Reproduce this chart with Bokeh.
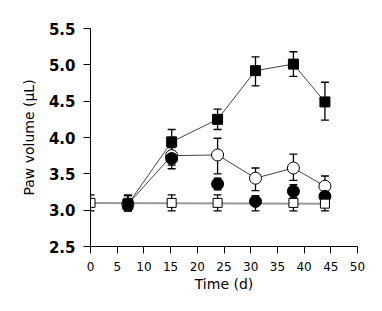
from bokeh.plotting import figure
from bokeh.models import Range1d, Whisker, ColumnDataSource, TeeHead, FixedTicker, PrintfTickFormatter
from bokeh.embed import file_html
from bokeh.resources import INLINE

# Data
x_ticks = [0, 5, 10, 15, 20, 25, 30, 35, 40, 45, 50]
y_ticks = [2.5, 3.0, 3.5, 4.0, 4.5, 5.0, 5.5]

fsq_days = [7, 15.2, 23.8, 30.9, 38, 43.9]
fsq_vals = [3.08, 3.94, 4.25, 4.92, 5.01, 4.49]
fsq_hi = [3.20, 4.11, 4.39, 5.11, 5.18, 4.76]
fsq_lo = [2.99, 3.76, 4.11, 4.71, 4.84, 4.24]

oc_days = [7, 15.2, 23.8, 30.9, 38, 43.9]
oc_vals = [3.08, 3.75, 3.76, 3.44, 3.58, 3.33]
oc_hi = [3.20, 3.86, 3.99, 3.58, 3.77, 3.47]
oc_lo = [2.99, 3.57, 3.50, 3.27, 3.41, 3.20]

fc_days = [15.2, 23.8, 30.9, 38, 43.9]
fc_vals = [3.71, 3.36, 3.12, 3.26, 3.19]
fc_hi = [3.80, 3.44, 3.20, 3.35, 3.27]
fc_lo = [3.62, 3.28, 2.99, 3.17, 3.10]

osq_days = [0, 7, 15.2, 23.8, 38, 43.9]
osq_vals = [3.10, 3.10, 3.10, 3.10, 3.10, 3.09]
osq_hi = [3.21, 3.21, 3.21, 3.21, 3.21, 3.20]
osq_lo = [2.99, 2.99, 2.99, 2.99, 2.99, 2.99]
osq_line_days = [0, 43.9]
osq_line_vals = [3.10, 3.09]

p = figure(width=374, height=303, output_backend="svg", toolbar_location=None,
           x_range=Range1d(0, 50), y_range=Range1d(2.5, 5.5),
           min_border_left=90, min_border_right=17, min_border_top=28, min_border_bottom=57)
p.outline_line_color = None
p.xgrid.visible = False
p.ygrid.visible = False
p.background_fill_color = "white"
p.border_fill_color = "white"

p.xaxis.ticker = FixedTicker(ticks=x_ticks)
p.yaxis.ticker = FixedTicker(ticks=y_ticks)
p.yaxis.formatter = PrintfTickFormatter(format="%.1f")
for ax in (p.xaxis, p.yaxis):
    ax.axis_line_color = "black"
    ax.axis_line_width = 1
    ax.major_tick_in = 0
    ax.major_tick_out = 7
    ax.major_tick_line_color = "black"
    ax.minor_tick_line_color = None
    ax.axis_label_text_font = "DejaVu Sans"
    ax.axis_label_text_font_style = "normal"
    ax.axis_label_text_font_size = "14px"
    ax.axis_label_text_color = "black"
    ax.major_label_text_font = "DejaVu Sans"
    ax.major_label_text_color = "black"

p.yaxis.major_label_text_font_size = "15px"
p.yaxis.major_label_text_font_style = "bold"
p.yaxis.major_label_standoff = 8
p.yaxis.axis_label = "Paw volume (μL)"
p.yaxis.axis_label_standoff = 9
p.xaxis.major_label_text_font_size = "12px"
p.xaxis.major_label_standoff = 8
p.xaxis.axis_label = "Time (d)"
p.xaxis.axis_label_standoff = 2

# Lines
p.line(osq_line_days, osq_line_vals, line_color="#9a9a9a", line_width=2)
p.line(fsq_days, fsq_vals, line_color="#444444", line_width=1)
p.line(oc_days, oc_vals, line_color="#444444", line_width=1)

# Error bars
def add_err(days, hi, lo):
    src = ColumnDataSource(dict(x=days, upper=hi, lower=lo))
    w = Whisker(source=src, base="x", upper="upper", lower="lower",
                line_color="black", line_width=1.3,
                upper_head=TeeHead(size=8, line_color="black", line_width=1.3),
                lower_head=TeeHead(size=8, line_color="black", line_width=1.3))
    p.add_layout(w)

add_err(osq_days, osq_hi, osq_lo)
add_err(fc_days, fc_hi, fc_lo)
add_err(oc_days, oc_hi, oc_lo)
add_err(fsq_days, fsq_hi, fsq_lo)

# Markers
p.scatter(oc_days, oc_vals, marker="circle", size=12, fill_color="white", line_color="black", line_width=1)
p.scatter(fc_days, fc_vals, marker="circle", size=12, fill_color="black", line_color="black")
p.scatter(osq_days, osq_vals, marker="square", size=9, fill_color="white", line_color="black", line_width=1)
p.scatter(fsq_days, fsq_vals, marker="square", size=10, fill_color="black", line_color="black")

open("out.html", "w").write(file_html(p, INLINE))
